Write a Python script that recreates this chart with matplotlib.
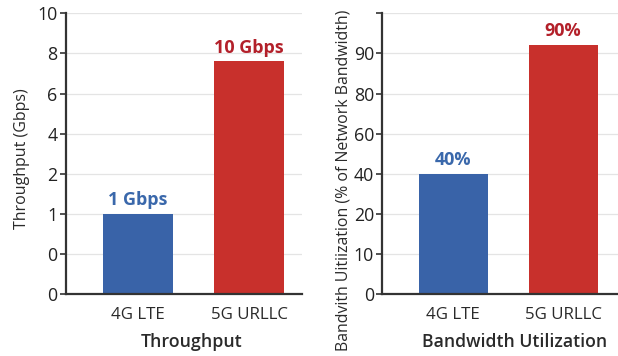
import matplotlib
matplotlib.use("Agg")
import matplotlib.pyplot as plt

plt.rcParams['font.family'] = ['Open Sans', 'DejaVu Sans']

# ---- data ----
categories = ["4G LTE", "5G URLLC"]
# left panel: the axis has uneven tick labels placed at equal steps
tp_tick_labels = ["0", "0", "1", "2", "4", "6", "8", "10"]
tp_bar_heights = [2.0, 5.8]          # heights read in tick-step units
tp_bar_labels = ["1 Gbps", "10 Gbps"]
# right panel
bw_tick_labels = ["0", "10", "20", "40", "60", "80", "90", ""]
bw_bar_heights = [3.0, 6.22]         # heights read in tick-step units
bw_bar_labels = ["40%", "90%"]

bar_colors = ["#3963a8", "#c8302c"]
text_colors = ["#3a68ab", "#b3202a"]

W, H = 618, 356
fig = plt.figure(figsize=(W / 100, H / 100), dpi=100)
fig.patch.set_facecolor("white")

def px_axes(x0, y0, x1, y1):
    return fig.add_axes([x0 / W, 1 - y1 / H, (x1 - x0) / W, (y1 - y0) / H])

def style(ax, tick_labels, xlim):
    n = len(tick_labels)
    ax.set_ylim(0, n - 1)
    ax.set_xlim(*xlim)
    ax.set_yticks(range(n))
    ax.set_yticklabels(tick_labels)
    ax.set_xticks(range(len(categories)))
    ax.set_xticklabels(categories)
    for s in ["top", "right"]:
        ax.spines[s].set_visible(False)
    for s in ["left", "bottom"]:
        ax.spines[s].set_color("#333333")
        ax.spines[s].set_linewidth(1.6)
    ax.tick_params(axis="y", length=4, width=1.2, color="#333333",
                   labelsize=12.8, labelcolor="#222222", pad=2)
    ax.tick_params(axis="x", length=0, labelsize=12.2, labelcolor="#2a2a2a", pad=9)
    for lab in ax.get_xticklabels() + ax.get_yticklabels():
        lab.set_fontweight("medium")
    ax.grid(axis="y", color="#e4e4e4", linewidth=0.9)
    ax.set_axisbelow(True)

def bars(ax, heights, labels):
    rects = ax.bar(range(len(categories)), heights, width=0.63, color=bar_colors, zorder=2)
    for r, lab, c in zip(rects, labels, text_colors):
        ax.annotate(lab, (r.get_x() + r.get_width() / 2, r.get_height()),
                    xytext=(0, 10), textcoords="offset points",
                    ha="center", va="center", fontsize=13, fontweight="bold", color=c)

ax1 = px_axes(65.7, 13.3, 302, 294.3)
style(ax1, tp_tick_labels, (-0.651, 1.477))
bars(ax1, tp_bar_heights, tp_bar_labels)

ax2 = px_axes(382.3, 13.3, 618, 294.3)
style(ax2, bw_tick_labels, (-0.647, 1.50))
bars(ax2, bw_bar_heights, bw_bar_labels)

fig.text(192 / W, 1 - 342 / H, "Throughput", ha="center", va="center",
         fontsize=12.8, fontweight="semibold", color="#2a2a2a")
fig.text(515 / W, 1 - 342 / H, "Bandwidth Utilization", ha="center", va="center",
         fontsize=12.7, fontweight="semibold", color="#2a2a2a")
fig.text(22 / W, 1 - 159 / H, "Throughput (Gbps)", ha="center", va="center",
         rotation=90, fontsize=11.5, color="#2a2a2a")
fig.text(343 / W, 1 - 180 / H, "Bandvith Uitiization (% of Network Bandwidth)",
         ha="center", va="center", rotation=90, fontsize=11.4, color="#2a2a2a")

fig.savefig("out.png", dpi=100, facecolor="white")
